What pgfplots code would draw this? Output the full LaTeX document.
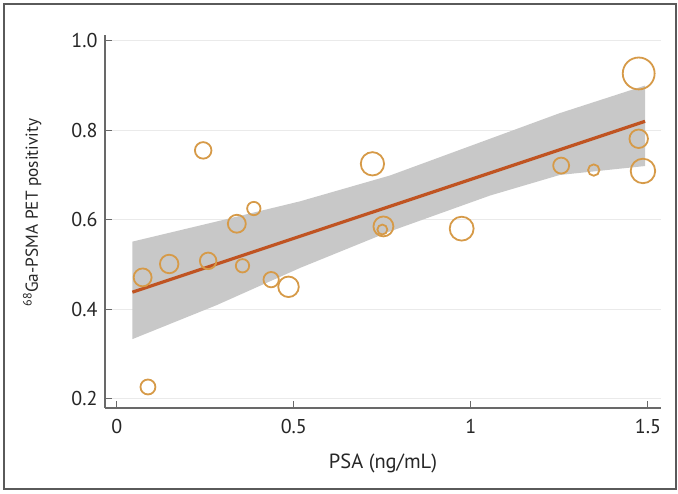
\documentclass[border=0pt]{standalone}
\usepackage{pgfplots}
\pgfplotsset{compat=1.18}
\usepackage{fontspec}
\setmainfont{PT Sans}

\definecolor{circ}{RGB}{214,154,72}
\definecolor{fitline}{RGB}{192,84,34}
\definecolor{band}{RGB}{200,200,200}
\definecolor{axgray}{RGB}{105,105,105}
\definecolor{gridgray}{RGB}{234,234,234}
\definecolor{framegray}{RGB}{90,90,90}

\begin{document}
\begin{tikzpicture}
\path[use as bounding box] (0bp,0bp) rectangle (678bp,494bp);
\draw[framegray, line width=1.3bp] (4bp,5bp) rectangle (676bp,490bp);
\begin{axis}[
  at={(105bp,86bp)}, anchor=south west,
  scale only axis, width=556bp, height=373bp,
  xmin=-0.0333, xmax=1.537, ymin=0.179, ymax=1.013,
  axis lines=left, axis line style={-, draw=axgray, line width=1.2bp},
  tick align=inside, major tick length=7bp,
  tick style={axgray, line width=1bp},
  xtick={0,0.5,1,1.5}, ytick={0.2,0.4,0.6,0.8,1.0},
  ymajorgrids, grid style={gridgray, line width=1bp},
  y tick label style={/pgf/number format/fixed, /pgf/number format/fixed zerofill, /pgf/number format/precision=1},
  /pgf/number format/assume math mode=true,
  tick label style={font=\fontsize{20bp}{23bp}\selectfont, text=black!85},
  xticklabel style={yshift=-8bp},
  yticklabel style={xshift=-4bp},
  xlabel={PSA (ng/mL)},
  ylabel={\textsuperscript{68}Ga-PSMA PET positivity},
  xlabel style={font=\fontsize{20.5bp}{23bp}\selectfont, text=black!85, at={(axis description cs:0.5,-0.148)}, anchor=center},
  ylabel style={font=\fontsize{17.3bp}{20bp}\selectfont, text=black!85, at={(axis description cs:-0.131,0.524)}, anchor=center},
]
\addplot[fill=band, draw=none] coordinates {
  (0.044,0.551) (0.282,0.596) (0.517,0.641) (0.772,0.699) (1.054,0.781) (1.25,0.838) (1.492,0.900)
  (1.492,0.720) (1.251,0.700) (1.054,0.654) (0.772,0.574) (0.517,0.492) (0.282,0.409) (0.044,0.333)
} -- cycle;
\addplot[fitline, line width=3.2bp] coordinates {(0.044,0.438) (1.492,0.820)};
\addplot[scatter, only marks, mark=o,
  scatter/use mapped color={draw=circ, fill=none},
  mark options={line width=1.8bp},
  visualization depends on={\thisrow{r} \as \rr},
  scatter/@pre marker code/.append style={/tikz/mark size=\rr}]
  table {
x y r
0.073 0.471 9
0.088 0.226 7.5
0.148 0.501 9.3
0.244 0.755 8.3
0.258 0.508 8.3
0.339 0.591 9
0.355 0.497 6.7
0.387 0.625 6.7
0.436 0.466 7.7
0.485 0.450 10.3
0.722 0.725 11.7
0.753 0.585 10
0.750 0.578 5
0.974 0.580 12
1.255 0.721 8
1.347 0.711 5.7
1.474 0.927 16
1.474 0.781 9.3
1.486 0.709 12.3
};
\end{axis}
\end{tikzpicture}
\end{document}
